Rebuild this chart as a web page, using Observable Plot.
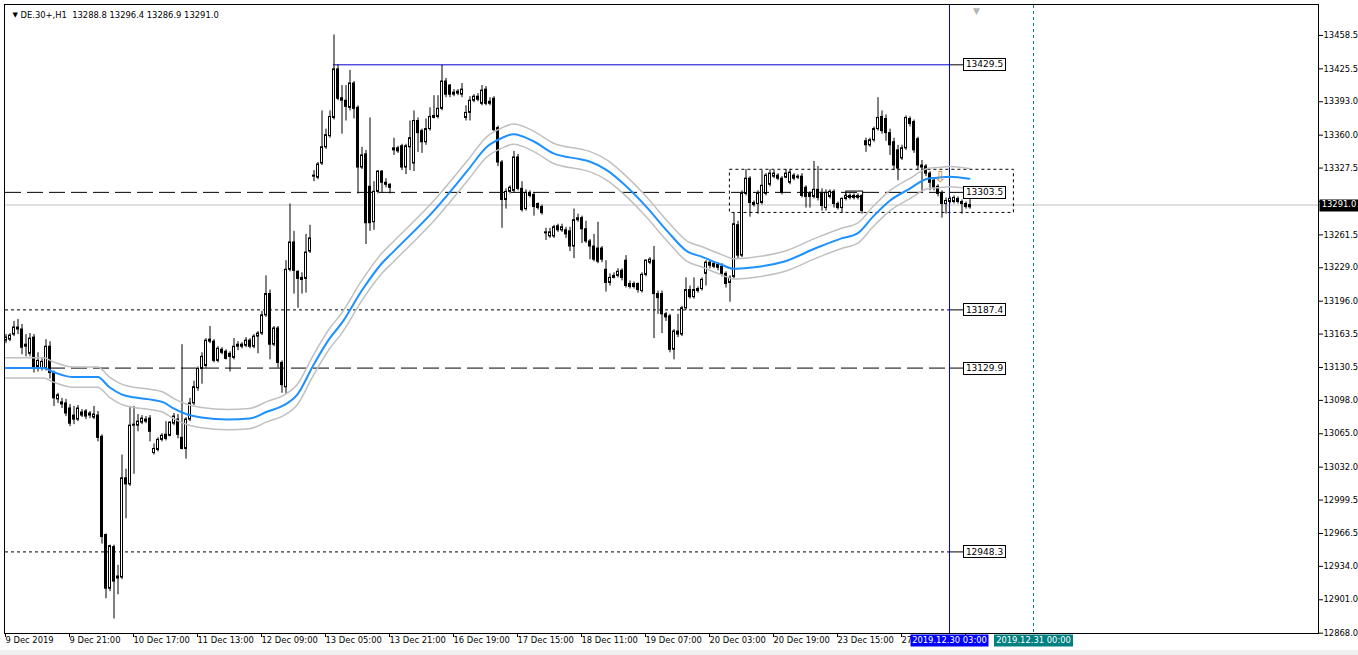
<!DOCTYPE html>
<html><head><meta charset="utf-8">
<script src="https://cdn.jsdelivr.net/npm/d3@7"></script>
<script src="https://cdn.jsdelivr.net/npm/@observablehq/plot@0.6"></script>
<style>
html,body{margin:0;padding:0;background:#fff;}
#wrap{width:1358px;height:655px;overflow:hidden;background:#fff;}
#foot{height:5px;background:#f0f0f0;}
svg{display:block}
</style></head><body><div id="wrap"><div id="chart"></div><div id="foot"></div></div>
<script>
// ---------- data ----------
const symbolTitle = "DE.30+,H1";
const lastQuote = [13288.8, 13296.4, 13286.9, 13291.0]; // O H L C of last bar
// hourly candles [open, high, low, close]
const candles = [
[13157,13163,13154,13160],[13158,13164,13156,13162],[13163,13176,13161,13170],[13170,13178,13163,13168],
[13168,13173,13143,13150],[13151,13163,13141,13153],[13144,13164,13141,13159],[13160,13163,13125,13129],
[13131,13145,13126,13137],[13129,13139,13127,13136],[13129,13158,13127,13151],[13151,13156,13119,13125],
[13125,13127,13092,13100],[13099,13105,13095,13103],[13096,13100,13090,13094],[13095,13099,13082,13085],
[13090,13094,13072,13075],[13083,13092,13074,13079],[13079,13093,13077,13090],[13086,13089,13081,13083],
[13087,13089,13079,13082],[13085,13087,13080,13083],[13081,13092,13079,13084],[13083,13087,13057,13061],
[13062,13064,12956,12963],[12965,12966,12902,12912],[12912,12955,12909,12954],[12953,12955,12882,12919],
[12922,12935,12906,12924],[12923,13044,12921,13021],[13021,13030,12981,13015],[13015,13092,13013,13073],
[13073,13092,13025,13074],[13073,13084,13067,13077],[13076,13083,13074,13080],[13077,13082,13075,13079],
[13080,13083,13057,13067],[13046,13055,13044,13050],[13049,13061,13047,13059],[13059,13065,13057,13063],
[13064,13077,13058,13060],[13063,13077,13062,13076],[13075,13085,13073,13082],[13079,13084,13060,13064],
[13061,13153,13049,13050],[13050,13081,13040,13079],[13079,13100,13077,13095],[13095,13117,13093,13111],
[13110,13131,13107,13129],[13129,13145,13114,13141],[13132,13159,13130,13157],[13158,13171,13154,13156],
[13156,13158,13135,13137],[13137,13151,13135,13149],[13148,13150,13143,13145],[13146,13148,13138,13139],
[13144,13146,13126,13141],[13140,13159,13138,13151],[13151,13156,13147,13153],[13151,13155,13149,13153],
[13152,13160,13150,13157],[13157,13159,13149,13151],[13151,13163,13149,13161],[13161,13166,13144,13164],
[13164,13186,13162,13182],[13182,13221,13180,13203],[13203,13207,13138,13153],[13153,13171,13151,13169],
[13169,13171,13130,13135],[13135,13137,13105,13113],[13111,13236,13104,13227],[13227,13292,13225,13254],
[13254,13265,13203,13226],[13225,13226,13189,13218],[13219,13224,13203,13217],[13218,13262,13204,13244],
[13245,13271,13243,13258],[13319,13325,13314,13320],[13318,13333,13316,13331],[13332,13384,13330,13348],
[13348,13366,13346,13360],[13359,13384,13357,13378],[13377,13459,13375,13425],[13425,13429.5,13394,13396],
[13394,13409,13361,13396.5],[13394,13409,13374,13388],[13387,13424,13384,13411],[13411,13413,13376,13386],
[13387,13389,13302,13328],[13328,13348,13326,13340],[13341,13345,13252,13273],[13309,13377,13265,13273],
[13274,13314,13266,13304],[13304,13325,13302,13324],[13324,13325,13303,13313],[13313,13317,13308,13311],
[13311,13312,13302,13308],[13345,13357,13340,13347],[13347,13349,13342,13344],[13349,13351,13325,13328],
[13328,13351,13321,13349],[13348,13374,13325,13357],[13332,13384,13324,13374],[13374,13377,13343,13362],
[13364,13366,13342,13353],[13353,13376,13350,13366],[13366,13387,13364,13378],[13379,13399,13376,13377],
[13378,13399,13376,13386],[13386,13429,13384,13413],[13413,13416,13397,13400],[13409,13410,13397,13400],
[13400,13405,13398,13402],[13401,13405,13399,13403],[13400,13411,13397,13405],[13377,13389,13374,13382],
[13382,13398,13374,13394],[13394,13400,13392,13398],[13398,13401,13393,13395],[13391,13409,13389,13404],
[13405,13408,13389,13391],[13391,13397,13389,13393],[13396,13398,13363,13365],[13367,13369,13329,13333],
[13333,13335,13268,13296],[13296,13307,13287,13304],[13304,13310,13302,13308],[13305,13344,13303,13338],
[13338,13341,13305,13307],[13307,13314,13284,13286],[13287,13306,13285,13303],[13303,13305,13298,13300],
[13301,13303,13280,13289],[13292,13293,13286,13288],[13289,13291,13281,13283],[13263,13268,13256,13264],
[13260,13268,13258,13264],[13260,13271,13258,13269],[13270,13272,13264,13266],[13266,13272,13264,13269],
[13266,13269,13258,13262],[13265,13269,13245,13250],[13250,13287,13238,13276],[13276,13282,13274,13278],
[13278,13280,13253,13267],[13267,13275,13253,13255],[13255,13257,13237,13250],[13250,13262,13235,13237],
[13248,13274,13233,13235],[13248,13250,13234,13237],[13227,13236,13205,13214],[13214,13223,13211,13219],
[13219,13224,13218,13221],[13221,13228,13219,13225],[13226,13228,13216,13219],[13236,13241,13209,13211],
[13213,13216,13208,13210],[13213,13215,13208,13210],[13213,13214,13204,13207],[13206,13224,13204,13222],
[13222,13237,13220,13236],[13234,13239,13232,13237],[13236,13250,13159,13203],[13203,13206,13183,13199],
[13203,13206,13164,13183],[13183,13185,13176,13180],[13181,13183,13145,13148],[13148,13168,13138,13166],
[13166,13183,13160,13163],[13163,13191,13161,13189],[13189,13219,13187,13207],[13207,13211,13198,13200],
[13200,13219,13198,13207],[13208,13210,13204,13206],[13208,13219,13206,13217],[13223,13236,13211,13234],
[13234,13236,13228,13231],[13233,13235,13228,13230],[13232,13234,13226,13229],[13230,13233,13220,13223],
[13223,13225,13209,13213],[13214,13221,13195,13219],[13220,13283,13218,13272],[13271,13275,13238,13241],
[13241,13305,13239,13302],[13302,13326,13300,13317],[13317,13319,13279,13293],[13293,13295,13289,13291],
[13292,13305,13282,13302],[13293,13325,13291,13310],[13302,13322,13300,13320],[13311,13326,13309,13322],
[13319,13325,13317,13322],[13320,13322,13315,13317],[13317,13319,13301,13303],[13318,13326,13317,13322],
[13313,13326,13311,13323],[13320,13322,13315,13317],[13319,13321,13316,13318],[13319,13322,13298,13300],
[13308,13310,13288,13299],[13302,13304,13288,13299],[13299,13334,13297,13306],[13306,13329,13295,13298],
[13303,13307,13285,13290],[13288,13306,13285,13303],[13299,13306,13297,13304],[13304,13306,13288,13292],
[13292,13294,13286,13288],[13288,13298,13283,13297],[13297,13302,13295,13300],[13298,13302,13296,13300],
[13298,13302,13296,13300],[13298,13302,13296,13300],[13300,13301,13282,13285],[13354,13357,13343,13350],
[13350,13357,13348,13355],[13355,13368,13353,13366],[13366,13397,13364,13377],[13378,13384,13361,13364],
[13376,13380,13354,13362],[13362,13366,13340,13350],[13353,13357,13325,13330],[13345,13350,13315,13327],
[13337,13350,13335,13347],[13347,13379,13345,13377],[13376,13378,13368,13371],[13373,13375,13342,13345],
[13356,13358,13325,13330],[13330,13335,13303,13328],[13329,13331,13319,13322],[13322,13324,13305,13313],
[13315,13317,13305,13308],[13309,13311,13299,13302],[13302,13305,13278,13292],[13292,13298,13282,13295],
[13294,13299,13292,13297],[13294,13300,13292,13298],[13297,13299,13292,13294],[13294,13296,13282,13292],
[13292,13294,13287,13289],[13288.8,13296.4,13286.9,13291.0]
];
// moving average readings [bar index, value]
const maPoints = [
[0,13130],[9.5,13130],[12,13126],[17,13121],[23,13121],[26,13111],[29,13104],[32,13101],[36,13099],
[39.5,13096],[42,13090],[45.5,13084],[49,13081],[55.5,13079],[61,13080],[65.5,13087],[69.5,13093],
[73,13104],[77,13133],[81,13159],[84,13174],[89,13206],[94,13233],[97,13245],[107,13285],[115.5,13325],
[120.5,13349],[124,13357],[127,13361],[132,13354],[137,13342],[144,13336],[146,13334],[150.5,13325],
[154.5,13312],[160.5,13288],[165.5,13265],[170.5,13245],[174,13240],[179,13232],[182,13228],[186,13229],
[194.5,13235],[203,13249],[209,13258],[213,13263],[217,13280],[221,13295],[226,13307],[230.5,13317],
[233,13318],[236,13319],[241,13317]
];
const envelopeWidth = 10;
const resistanceLevel = 13429.5, resistanceStartBar = 82;
const dashedLevels = [13303.5, 13129.9];
const dottedLevels = [13187.4, 12948.3];
const labelledLevels = [13429.5, 13303.5, 13187.4, 13129.9, 12948.3];
const rangeBox = [{i1:181.1, i2:252.1, lo:13283.2, hi:13325.8}];
const smallBox = [{i1:210.2, i2:214.4, lo:13299, hi:13304.3}];
const sellArrow = [{i:233.75, price:13318}];
const yTicks = [13458.5,13425.5,13393.0,13360.0,13327.5,13294.5,13261.5,13229.0,13196.0,13163.5,13130.5,
  13098.0,13065.0,13032.0,12999.5,12966.5,12934.0,12901.0,12868.0];
const timeLabels = ["9 Dec 2019","9 Dec 21:00","10 Dec 17:00","11 Dec 13:00","12 Dec 09:00","13 Dec 05:00",
  "13 Dec 21:00","16 Dec 19:00","17 Dec 15:00","18 Dec 11:00","19 Dec 07:00","20 Dec 03:00","20 Dec 19:00",
  "23 Dec 15:00","27 Dec 11:00","30 Dec 07:00"];
const barsPerLabel = 16;
const cursorBar = 236, cursorLabel = "2019.12.30 03:00";
const futureBar = 257, futureLabel = "2019.12.31 00:00";
const shiftBar = 242.75;

// ---------- chart ----------
const font = "'DejaVu Sans', sans-serif";
const rows = candles.map(([o,h,l,c],i)=>({i,o,h,l,c,up:c>=o}));
const ma = maPoints.map(([i,v])=>({i,v}));
const current = lastQuote[3];
const tickIdx = timeLabels.map((_,k)=>k*barsPerLabel);

const chart = Plot.plot({
  width:1358, height:650,
  marginLeft:5, marginRight:40, marginTop:5, marginBottom:17,
  x:{domain:[0,328.25]},
  y:{domain:[12867.7,13488.1]},
  style:{fontFamily:font, fontSize:"8.4px", background:"#fff", color:"#000", overflow:"visible"},
  marks:[
    Plot.ruleY([current], {stroke:"#c0c0c0"}),
    Plot.ruleY(dashedLevels, {x1:0, x2:cursorBar, stroke:"#000", strokeDasharray:"16,6"}),
    Plot.ruleY(dottedLevels, {x1:0, x2:cursorBar, stroke:"#000", strokeDasharray:"3,3"}),
    Plot.ruleY([resistanceLevel], {x1:resistanceStartBar, x2:cursorBar, stroke:"#0000cc"}),
    Plot.ruleY(labelledLevels, {x1:cursorBar, x2:239.5, stroke:"#000"}),
    Plot.rect(rangeBox, {x1:"i1", x2:"i2", y1:"lo", y2:"hi", fill:"none", stroke:"#000", strokeDasharray:"3,3"}),
    Plot.rect(smallBox, {x1:"i1", x2:"i2", y1:"lo", y2:"hi", fill:"none", stroke:"#000"}),
    Plot.ruleX([cursorBar], {stroke:"#0000ff"}),
    Plot.ruleX([futureBar], {stroke:"#008080", strokeDasharray:"3,3"}),
    Plot.ruleX(rows, {x:"i", y1:"l", y2:"h", stroke:"#000", dx:0.5}),
    Plot.rect(rows, {x1:d=>d.i-0.25, x2:d=>d.i+0.25, y1:"o", y2:"c", fill:d=>d.up?"#ffffff":"#000000", stroke:"#000", dx:0.5}),
    Plot.line(ma, {x:"i", y:d=>d.v+envelopeWidth, stroke:"#c0c0c0", curve:"monotone-x"}),
    Plot.line(ma, {x:"i", y:d=>d.v-envelopeWidth, stroke:"#c0c0c0", curve:"monotone-x"}),
    Plot.line(ma, {x:"i", y:"v", stroke:"#1e90ff", strokeWidth:2, curve:"monotone-x"}),
    Plot.text(sellArrow, {x:"i", y:"price", text:()=>"\u21E9", fill:"#d08a4a", fontSize:15}),
    Plot.text([0], {x:()=>shiftBar, frameAnchor:"top", text:()=>"\u25BC", dy:2, fill:"#b4b4b4", fontSize:9}),
    Plot.text([0], {frameAnchor:"top-left", dx:7, dy:7, text:()=>"\u25BC", fontSize:7, fill:"#000"}),
    Plot.text([0], {frameAnchor:"top-left", dx:15, dy:7, textAnchor:"start", fontSize:8.4,
      text:()=>symbolTitle+"\u00a0\u00a0"+lastQuote.map(v=>v.toFixed(1)).join(" ")}),
    Plot.axisY(yTicks, {anchor:"right", tickSize:4, tickPadding:1,
      tickFormat:d=>Math.abs(d-current)<6 ? "" : d.toFixed(1)}),
    Plot.axisX(tickIdx, {anchor:"bottom", tickSize:4, tickPadding:0, textAnchor:"start",
      tickFormat:d=>timeLabels[d/barsPerLabel]})
  ]
});
document.getElementById("chart").appendChild(chart);

const sx = chart.scale("x"), sy = chart.scale("y");
const X = v=>sx.apply(v), Y = v=>sy.apply(v);
const svg = d3.select(chart);
const fLeft = X(0), fRight = X(328.25), fTop = Y(13488.1), fBottom = Y(12867.7);
// frame
svg.append("rect").attr("x",fLeft-0.5).attr("y",fTop-0.5).attr("width",fRight-fLeft+1).attr("height",fBottom-fTop+1)
  .attr("fill","none").attr("stroke","#000");
// time labels that run under the cursor label keep only the part that shows
const cursorLeft = X(cursorBar)-39;
const svgLeft = chart.getBoundingClientRect().left;
svg.selectAll('g[aria-label="x-axis tick label"] text').each(function(){
  const t = d3.select(this);
  let words = t.text().split(" ");
  const rightEdge = () => this.getBoundingClientRect().right - svgLeft;
  while (words.length && rightEdge() > cursorLeft + 3) {
    words.pop(); t.text(words.join(" "));
  }
  if (!words.length) t.remove();
});
function box(x, cy, w, h, fill, stroke, text, color, size){
  const g = svg.append("g");
  g.append("rect").attr("x",x+0.5).attr("y",Math.round(cy-h/2)+0.5).attr("width",w).attr("height",h)
    .attr("fill",fill).attr("stroke",stroke||"none");
  g.append("text").attr("x",x+w/2+0.5).attr("y",cy).attr("dy","0.35em").attr("text-anchor","middle")
    .attr("font-family",font).attr("font-size",size).attr("fill",color).text(text);
}
labelledLevels.forEach(v=>box(X(239.5), Y(v), 42, 12, "#fff", "#000", v.toFixed(1), "#000", 9));
box(fRight+1, Y(current), 39, 12, "#000", null, current.toFixed(1), "#fff", 8.4);
box(X(cursorBar)-39, fBottom+7, 78, 12, "#0000ff", null, cursorLabel, "#fff", 8.4);
box(X(futureBar)-39.5, fBottom+7, 79, 12, "#008080", null, futureLabel, "#fff", 8.4);
</script></body></html>
